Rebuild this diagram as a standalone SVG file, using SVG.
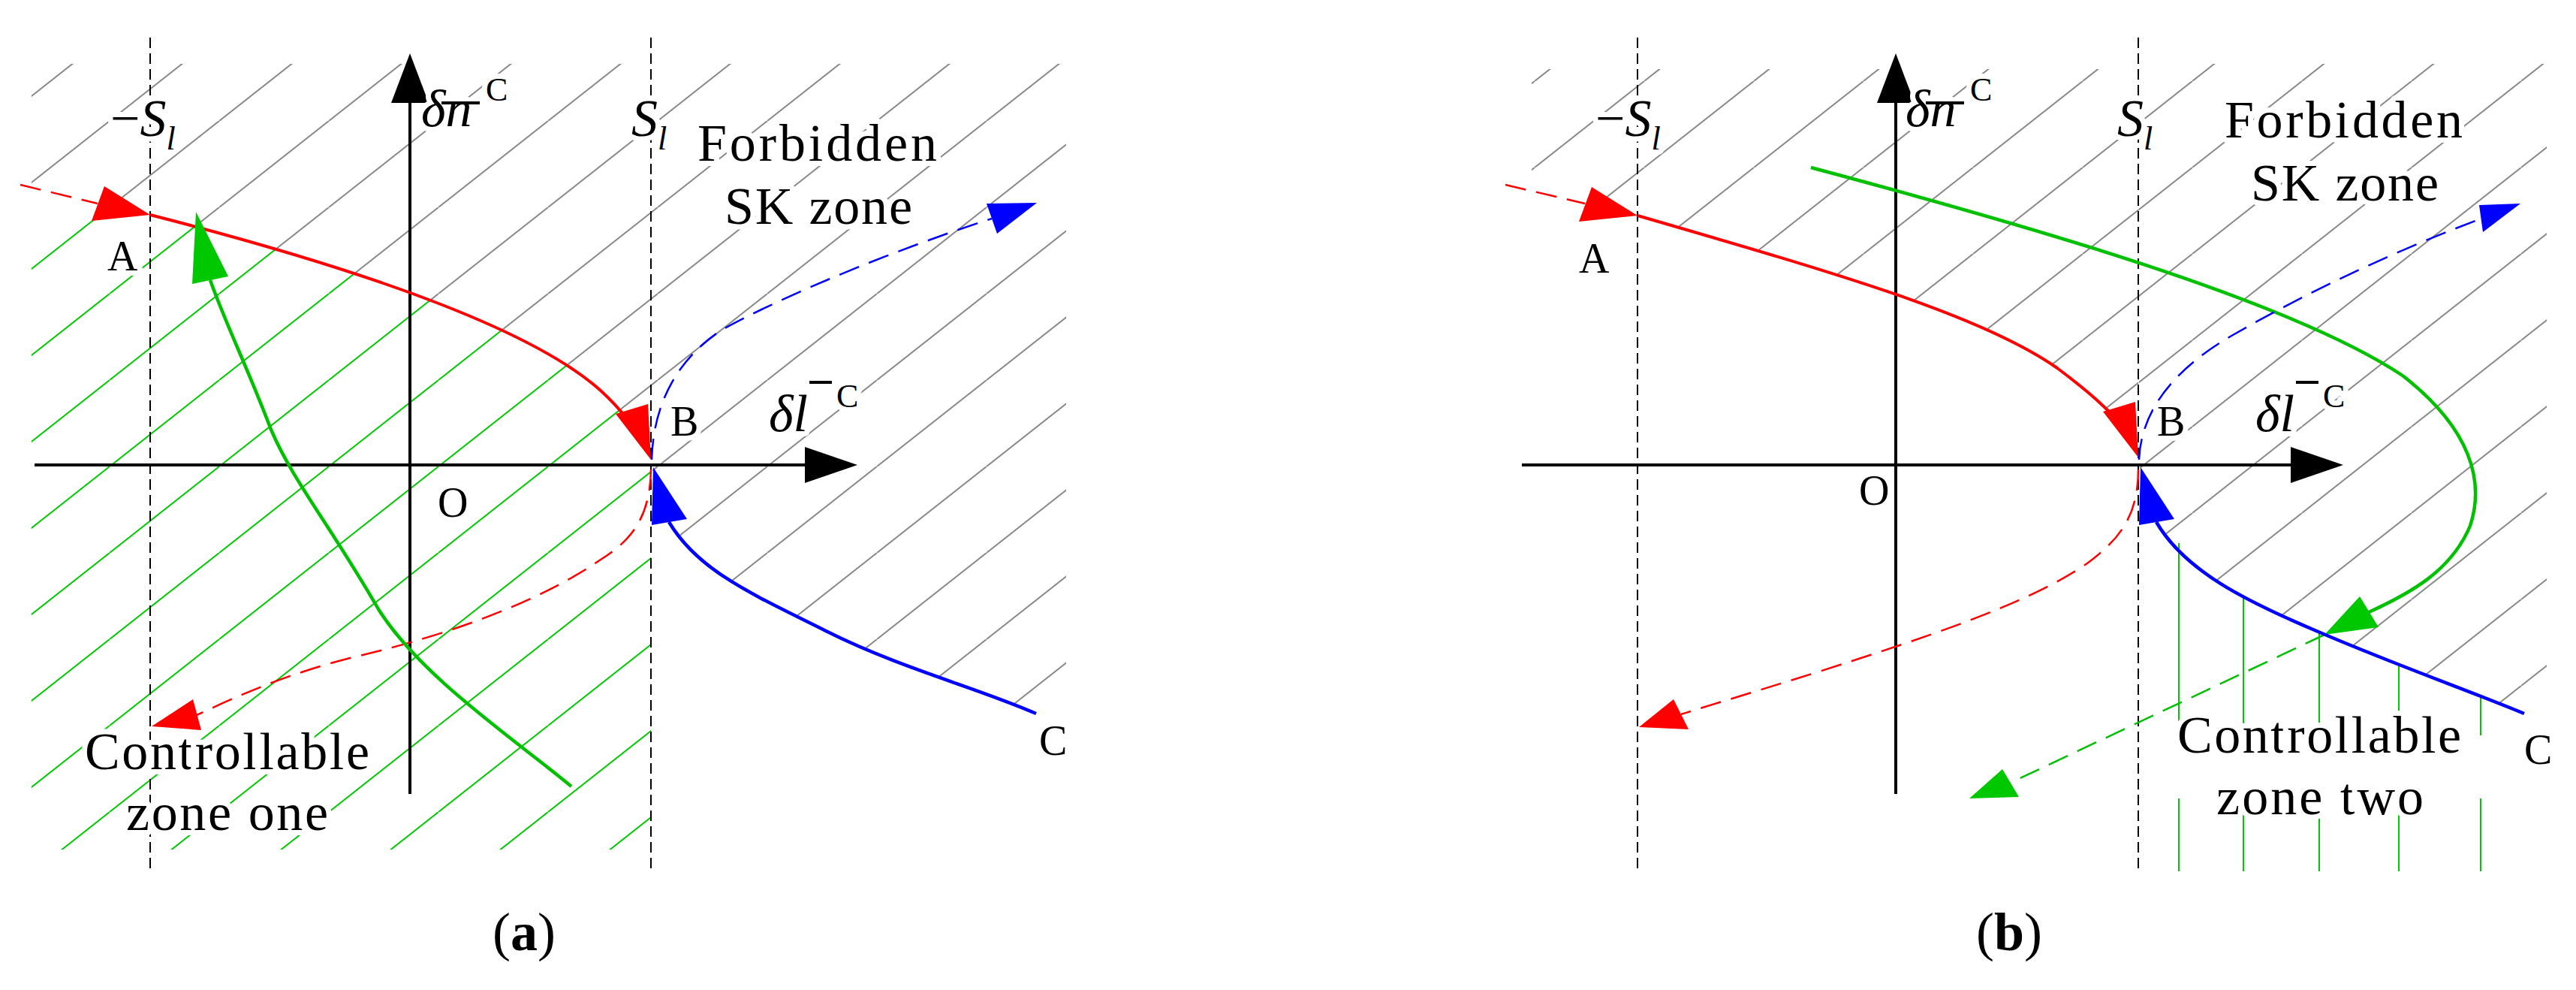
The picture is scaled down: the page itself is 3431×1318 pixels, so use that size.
<svg xmlns="http://www.w3.org/2000/svg" width="3431" height="1318" viewBox="0 0 3431 1318">
<style>
text{font-family:"Liberation Serif","Times New Roman",serif;fill:#000}
.halo{stroke:#fff;stroke-width:14;paint-order:stroke;stroke-linejoin:round}
.lbl{font-size:56px}
.big{font-size:70px}
.it{font-style:italic}
.ax{stroke:#000;stroke-width:4;fill:none}
.vd{stroke:#000;stroke-width:2;stroke-dasharray:14 7;fill:none}
.r{stroke:#f00;stroke-width:4;fill:none}
.rd{stroke:#f00;stroke-width:2.5;stroke-dasharray:28 14;fill:none}
.g{stroke:#00c000;stroke-width:4.5;fill:none}
.gd{stroke:#00c000;stroke-width:2.5;stroke-dasharray:28 14;fill:none}
.b{stroke:#00f;stroke-width:4.5;fill:none}
.bd{stroke:#00f;stroke-width:2.5;stroke-dasharray:28 14;fill:none}
.gv{stroke:#00c800;stroke-width:2}
</style>
<defs>
<pattern id="hg1" patternUnits="userSpaceOnUse" x="0" y="46" width="146" height="115"><path d="M0,115 L146,0 M-146,115 L0,0 M146,115 L292,0" stroke="#888" stroke-width="2"/></pattern>
<pattern id="hn1" patternUnits="userSpaceOnUse" x="0" y="46" width="146" height="115"><path d="M0,115 L146,0 M-146,115 L0,0 M146,115 L292,0" stroke="#00c800" stroke-width="2"/></pattern>
<pattern id="hg2" patternUnits="userSpaceOnUse" x="0" y="108" width="146" height="115"><path d="M0,115 L146,0 M-146,115 L0,0 M146,115 L292,0" stroke="#888" stroke-width="2"/></pattern>
</defs>
<rect width="3431" height="1318" fill="#fff"/>

<g id="hatch-a">
<path fill="url(#hg1)" d="M42,85 L867,85 L867,612 C855,585 835,552 800,520 C700,430 450,350 200,286 L42,250 Z"/>
<path fill="url(#hg1)" d="M867,85 L1420,85 L1420,960 L1380,950 C1300,915 1200,890 1100,840 C1000,790 930,760 891,695 L867,619 Z"/>
<path fill="url(#hn1)" d="M42,250 L200,286 C450,350 700,430 800,520 C835,552 855,585 867,612 L867,1131 L42,1131 Z"/>
</g>
<g id="hatch-b">
<path fill="url(#hg2)" d="M2040,92 L2848,92 L2848,609 C2835,575 2800,535 2740,490 C2640,420 2450,365 2181,287 L2040,250 Z"/>
<path fill="url(#hg2)" d="M2848,85 L3392,85 L3392,962 L3362,950 C3290,920 3190,885 3090,842 C2990,800 2910,760 2872,695 L2849,619 Z"/>
<g id="zone-two-lines">
<line class="gv" x1="2902" y1="723" x2="2902" y2="979"/><line class="gv" x1="2902" y1="1063" x2="2902" y2="1160"/>
<line class="gv" x1="2988" y1="793" x2="2988" y2="979"/><line class="gv" x1="2988" y1="1063" x2="2988" y2="1160"/>
<line class="gv" x1="3089" y1="842" x2="3089" y2="979"/><line class="gv" x1="3089" y1="1063" x2="3089" y2="1160"/>
<line class="gv" x1="3195" y1="887" x2="3195" y2="979"/><line class="gv" x1="3195" y1="1063" x2="3195" y2="1160"/>
<line class="gv" x1="3304" y1="928" x2="3304" y2="979"/><line class="gv" x1="3304" y1="1063" x2="3304" y2="1160"/>
</g>
</g>

<g id="axes">
<line class="vd" x1="200" y1="50" x2="200" y2="1160"/>
<line class="vd" x1="867" y1="50" x2="867" y2="1160"/>
<line class="ax" x1="46" y1="619" x2="1080" y2="619"/>
<polygon points="1142,619 1072,595 1072,643"/>
<line class="ax" x1="546" y1="1057" x2="546" y2="130"/>
<polygon points="546,71 521,137 571,137"/>
<line class="vd" x1="2181" y1="50" x2="2181" y2="1160"/>
<line class="vd" x1="2848" y1="50" x2="2848" y2="1160"/>
<line class="ax" x1="2027" y1="619" x2="3060" y2="619"/>
<polygon points="3121,619 3051,595 3051,643"/>
<line class="ax" x1="2525" y1="1057" x2="2525" y2="130"/>
<polygon points="2525,71 2500,137 2550,137"/>
</g>

<g id="connectors">
<!-- panel a -->
<path class="rd" d="M27,246 L130,271"/>
<polygon fill="#f00" points="200,286 122,294 139,248"/>
<path class="r" d="M200,286 C450,350 700,430 800,520 C825,543 845,568 855,590"/>
<polygon fill="#f00" points="867,612 820,551 863,538"/>
<path class="rd" d="M867,625 C866,690 840,720 800,745 C720,800 600,845 470,875 C380,898 320,925 262,952"/>
<polygon fill="#f00" points="202,967 257,931 268,972"/>
<path class="g" d="M761,1047 C680,980 560,900 504,811 C440,700 390,640 361,572 C330,490 300,430 280,373"/>
<polygon fill="#00c800" points="261,282 256,378 304,368"/>
<path class="b" d="M891,695 C930,760 1000,790 1100,840 C1200,890 1300,915 1380,950"/>
<polygon fill="#00f" points="870,622 868,699 915,691"/>
<path class="bd" d="M868,612 C870,540 900,480 960,440 C1050,390 1200,330 1321,291"/>
<polygon fill="#00f" points="1381,270 1314,271 1328,311"/>
<!-- panel b -->
<path class="rd" d="M2005,246 L2111,271"/>
<polygon fill="#f00" points="2181,287 2103,295 2120,249"/>
<path class="r" d="M2181,287 C2450,365 2640,420 2740,490 C2800,535 2830,565 2838,590"/>
<polygon fill="#f00" points="2848,609 2801,548 2844,535"/>
<path class="rd" d="M2848,625 C2848,690 2820,720 2780,750 C2700,805 2560,850 2420,895 C2340,920 2290,935 2239,951"/>
<polygon fill="#f00" points="2183,968 2229,931 2249,971"/>
<path class="g" d="M2412,223 C2700,300 3050,400 3200,500 C3290,570 3310,640 3290,700 C3265,760 3210,790 3155,815"/>
<polygon fill="#00c800" points="3096,845 3143,794 3168,835"/>
<path class="gd" d="M3096,845 L2678,1042"/>
<polygon fill="#00c800" points="2623,1063 2667,1024 2689,1061"/>
<path class="b" d="M2872,695 C2910,760 2990,800 3090,842 C3190,885 3290,920 3362,950"/>
<polygon fill="#00f" points="2851,622 2849,699 2896,691"/>
<path class="bd" d="M2849,612 C2851,560 2880,500 2974,446 C3080,385 3200,330 3305,291"/>
<polygon fill="#00f" points="3357,271 3302,273 3307,309"/>
</g>

<g id="labels-a">
<text class="big halo" x="147" y="181">−<tspan class="it">S</tspan><tspan class="it" font-size="44" dy="18">l</tspan></text>
<text class="big halo it" x="561" y="168">δn</text>
<line x1="588" y1="137" x2="639" y2="137" stroke="#000" stroke-width="4"/>
<text class="halo" font-size="44" x="647" y="134">C</text>
<text class="big halo it" x="841" y="181">S<tspan font-size="44" dy="18">l</tspan></text>
<text class="big halo" x="929" y="214" textLength="319">Forbidden</text>
<text class="big halo" x="965" y="298" textLength="250">SK zone</text>
<text class="lbl halo" x="143" y="360">A</text>
<text class="lbl halo" x="893" y="580">B</text>
<text class="lbl halo" x="583" y="688">O</text>
<text class="lbl halo" x="1384" y="1005">C</text>
<text class="big halo it" x="1024" y="574">δl</text>
<line x1="1078" y1="509" x2="1108" y2="509" stroke="#000" stroke-width="4"/>
<text class="halo" font-size="44" x="1114" y="542">C</text>
<text class="big halo" x="113" y="1024" textLength="379">Controllable</text>
<text class="big halo" x="168" y="1105" textLength="269">zone one</text>
<text font-size="72" x="698" y="1265" text-anchor="middle">(<tspan font-weight="bold">a</tspan>)</text>
</g>

<g id="labels-b">
<text class="big halo" x="2125" y="181">−<tspan class="it">S</tspan><tspan class="it" font-size="44" dy="18">l</tspan></text>
<text class="big halo it" x="2538" y="168">δn</text>
<line x1="2565" y1="137" x2="2616" y2="137" stroke="#000" stroke-width="4"/>
<text class="halo" font-size="44" x="2624" y="134">C</text>
<text class="big halo it" x="2820" y="181">S<tspan font-size="44" dy="18">l</tspan></text>
<text class="big halo" x="2963" y="183" textLength="317">Forbidden</text>
<text class="big halo" x="2998" y="267" textLength="250">SK zone</text>
<text class="lbl halo" x="2103" y="363">A</text>
<text class="lbl halo" x="2873" y="580">B</text>
<text class="lbl halo" x="2476" y="672">O</text>
<text class="lbl halo" x="3362" y="1017">C</text>
<text class="big halo it" x="3004" y="574">δl</text>
<line x1="3058" y1="509" x2="3088" y2="509" stroke="#000" stroke-width="4"/>
<text class="halo" font-size="44" x="3094" y="542">C</text>
<text class="big halo" x="2900" y="1002" textLength="378">Controllable</text>
<text class="big halo" x="2952" y="1084" textLength="276">zone two</text>
<text font-size="72" x="2676" y="1265" text-anchor="middle">(<tspan font-weight="bold">b</tspan>)</text>
</g>
</svg>
